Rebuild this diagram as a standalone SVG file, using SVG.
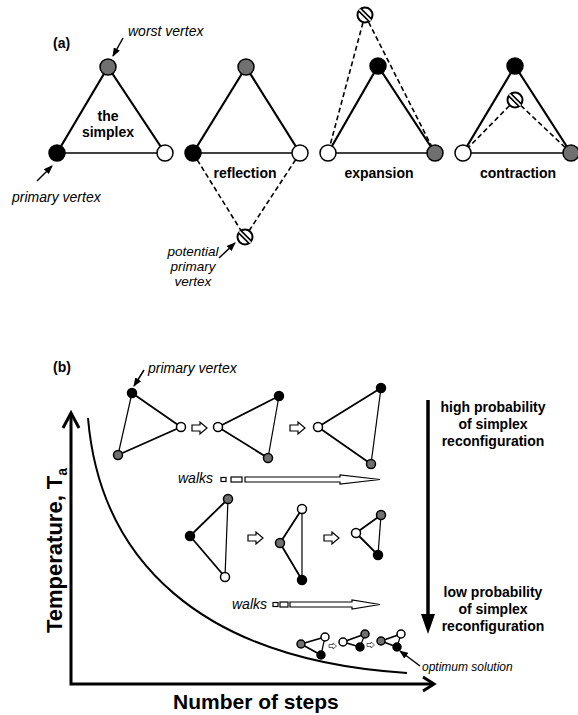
<svg xmlns="http://www.w3.org/2000/svg" xmlns:xlink="http://www.w3.org/1999/xlink" width="578" height="715" viewBox="0 0 578 715">
<style>
.v{stroke:#000;stroke-width:1.5}
.blk{fill:#000}.gry{fill:#707070}.wht{fill:#fff}
.e{stroke:#000;stroke-width:2.2;fill:none}
.et{stroke:#000;stroke-width:1.5;fill:none}
.es{stroke:#000;stroke-width:1.8;fill:none}
.est{stroke:#000;stroke-width:1.2;fill:none}
.d{stroke:#000;stroke-width:1.6;stroke-dasharray:5 3;fill:none}
.lb{font-family:"Liberation Sans",Arial,sans-serif;font-weight:bold;font-size:14px;text-anchor:middle;fill:#000}
.it{font-family:"Liberation Sans",Arial,sans-serif;font-style:italic;font-size:14px;fill:#000}
.ptr{stroke:#000;stroke-width:1.5;fill:none;marker-end:url(#ah)}
.ax{stroke:#000;stroke-width:3;fill:none}
.ho{fill:#fff;stroke:#000;stroke-width:1.2}
</style>
<defs>
<marker id="ah" markerUnits="userSpaceOnUse" markerWidth="9" markerHeight="7" refX="8" refY="3.5" orient="auto">
<path d="M0,0 L9,3.5 L0,7 Z" fill="#000"/>
</marker>
<g id="hatch">
<circle r="7.5" fill="#fff" stroke="#000" stroke-width="2"/>
<line x1="-5.3" y1="-5.3" x2="5.3" y2="5.3" stroke="#000" stroke-width="5"/>
<line x1="-5.6" y1="-5.6" x2="5.6" y2="5.6" stroke="#fff" stroke-width="1.6"/>
</g>
<path id="step" d="M0,-3 H8 V-6 L15,0 L8,6 V3 H0 Z"/>
</defs>

<!-- ===== Part (a) ===== -->
<text x="53" y="48" class="lb" style="text-anchor:start">(a)</text>

<g id="simplex">
<line x1="57" y1="153" x2="108" y2="67" class="e"/>
<line x1="108" y1="67" x2="165" y2="153" class="e"/>
<line x1="57" y1="153" x2="165" y2="153" class="et"/>
<circle cx="108" cy="67" r="8" class="v gry"/>
<circle cx="57" cy="153" r="8" class="v blk"/>
<circle cx="165" cy="153" r="8" class="v wht"/>
<text x="108" y="121" class="lb">the</text>
<text x="108" y="137" class="lb">simplex</text>
</g>
<text x="128" y="36" class="it">worst vertex</text>
<text x="12" y="202" class="it">primary vertex</text>

<g id="reflection">
<line x1="193" y1="153" x2="246" y2="67" class="e"/>
<line x1="246" y1="67" x2="300" y2="153" class="e"/>
<line x1="193" y1="153" x2="300" y2="153" class="et"/>
<line x1="193" y1="153" x2="245" y2="237" class="d"/>
<line x1="300" y1="153" x2="245" y2="237" class="d"/>
<circle cx="246" cy="67" r="8" class="v gry"/>
<circle cx="193" cy="153" r="8" class="v blk"/>
<circle cx="300" cy="153" r="8" class="v wht"/>
<use xlink:href="#hatch" x="245" y="237"/>
<text x="245" y="178" class="lb">reflection</text>
</g>
<text x="193" y="256" class="it" style="text-anchor:middle;font-size:13.5px">potential</text>
<text x="193" y="271" class="it" style="text-anchor:middle;font-size:13.5px">primary</text>
<text x="193" y="286" class="it" style="text-anchor:middle;font-size:13.5px">vertex</text>

<g id="expansion">
<line x1="328" y1="153" x2="378" y2="66" class="e"/>
<line x1="378" y1="66" x2="435" y2="153" class="e"/>
<line x1="328" y1="153" x2="435" y2="153" class="et"/>
<line x1="365" y1="15" x2="328" y2="153" class="d"/>
<line x1="365" y1="15" x2="435" y2="153" class="d"/>
<circle cx="378" cy="66" r="8" class="v blk"/>
<circle cx="328" cy="153" r="8" class="v wht"/>
<circle cx="435" cy="153" r="8" class="v gry"/>
<use xlink:href="#hatch" x="365" y="15"/>
<text x="379" y="178" class="lb">expansion</text>
</g>

<g id="contraction">
<line x1="463" y1="153" x2="515" y2="66" class="e"/>
<line x1="515" y1="66" x2="571" y2="153" class="e"/>
<line x1="463" y1="153" x2="571" y2="153" class="et"/>
<line x1="515" y1="100" x2="463" y2="153" class="d"/>
<line x1="515" y1="100" x2="571" y2="153" class="d"/>
<circle cx="515" cy="66" r="8" class="v blk"/>
<circle cx="463" cy="153" r="8" class="v wht"/>
<circle cx="571" cy="153" r="8" class="v gry"/>
<use xlink:href="#hatch" x="515" y="100"/>
<text x="518" y="178" class="lb">contraction</text>
</g>

<!-- ===== Part (b) ===== -->
<text x="53" y="372" class="lb" style="text-anchor:start">(b)</text>
<text x="148" y="373" class="it">primary vertex</text>

<g id="b1">
<line x1="132" y1="393" x2="181" y2="427" class="es"/>
<line x1="181" y1="427" x2="118" y2="455" class="es"/>
<line x1="118" y1="455" x2="132" y2="393" class="est"/>
<circle cx="132" cy="393" r="4.5" class="v blk"/>
<circle cx="181" cy="427" r="4.5" class="v wht"/>
<circle cx="118" cy="455" r="4.5" class="v gry"/>
</g>
<g id="b2">
<line x1="218" y1="427" x2="279" y2="396" class="es"/>
<line x1="218" y1="427" x2="268" y2="458" class="es"/>
<line x1="279" y1="396" x2="268" y2="458" class="est"/>
<circle cx="218" cy="427" r="4.5" class="v wht"/>
<circle cx="279" cy="396" r="4.5" class="v blk"/>
<circle cx="268" cy="458" r="4.5" class="v gry"/>
</g>
<g id="b3">
<line x1="318" y1="427" x2="381" y2="388" class="es"/>
<line x1="318" y1="427" x2="371" y2="464" class="es"/>
<line x1="381" y1="388" x2="371" y2="464" class="est"/>
<circle cx="318" cy="427" r="4.5" class="v wht"/>
<circle cx="381" cy="388" r="4.5" class="v blk"/>
<circle cx="371" cy="464" r="4.5" class="v gry"/>
</g>
<g id="b4">
<line x1="190" y1="536" x2="228" y2="499" class="es"/>
<line x1="190" y1="536" x2="225" y2="577" class="es"/>
<line x1="228" y1="499" x2="225" y2="577" class="est"/>
<circle cx="228" cy="499" r="4.5" class="v gry"/>
<circle cx="190" cy="536" r="4.5" class="v blk"/>
<circle cx="225" cy="577" r="4.5" class="v wht"/>
</g>
<g id="b5">
<line x1="280" y1="543" x2="302" y2="509" class="es"/>
<line x1="280" y1="543" x2="302" y2="580" class="es"/>
<line x1="302" y1="509" x2="302" y2="580" class="est"/>
<circle cx="302" cy="509" r="4.5" class="v wht"/>
<circle cx="280" cy="543" r="4.5" class="v gry"/>
<circle cx="302" cy="580" r="4.5" class="v blk"/>
</g>
<g id="b6">
<line x1="356" y1="533" x2="381" y2="515" class="es"/>
<line x1="356" y1="533" x2="378" y2="555" class="es"/>
<line x1="381" y1="515" x2="378" y2="555" class="est"/>
<circle cx="381" cy="515" r="4.5" class="v gry"/>
<circle cx="356" cy="533" r="4.5" class="v wht"/>
<circle cx="378" cy="555" r="4.5" class="v blk"/>
</g>
<g id="t1">
<line x1="301" y1="644" x2="325" y2="637" class="es"/>
<line x1="301" y1="644" x2="321" y2="655" class="es"/>
<line x1="325" y1="637" x2="321" y2="655" class="est"/>
<circle cx="301" cy="644" r="4" class="v gry"/>
<circle cx="325" cy="637" r="4" class="v wht"/>
<circle cx="321" cy="655" r="4" class="v blk"/>
</g>
<g id="t2">
<line x1="343" y1="642" x2="365" y2="634" class="es"/>
<line x1="343" y1="642" x2="360" y2="647" class="es"/>
<line x1="365" y1="634" x2="360" y2="647" class="est"/>
<circle cx="343" cy="642" r="4" class="v wht"/>
<circle cx="365" cy="634" r="4" class="v gry"/>
<circle cx="360" cy="647" r="4" class="v blk"/>
</g>
<g id="t3">
<line x1="381" y1="641" x2="401" y2="634" class="es"/>
<line x1="381" y1="641" x2="397" y2="647" class="es"/>
<line x1="401" y1="634" x2="397" y2="647" class="est"/>
<circle cx="381" cy="641" r="4" class="v gry"/>
<circle cx="401" cy="634" r="4" class="v wht"/>
<circle cx="397" cy="647" r="4" class="v blk"/>
</g>
<text x="422" y="671" class="it" style="font-size:12px">optimum solution</text>

<text x="178" y="483" class="it">walks</text>
<text x="232" y="609" class="it">walks</text>

<text x="493" y="412" class="lb">high probability</text>
<text x="493" y="429" class="lb">of simplex</text>
<text x="493" y="446" class="lb">reconfiguration</text>
<text x="493" y="597" class="lb">low probability</text>
<text x="493" y="614" class="lb">of simplex</text>
<text x="493" y="631" class="lb">reconfiguration</text>

<text transform="translate(62,633) rotate(-90)" style="font-family:'Liberation Sans',Arial,sans-serif;font-weight:bold;font-size:22px">Temperature, T<tspan dy="5" style="font-size:14px">a</tspan></text>
<text x="173" y="709" style="font-family:'Liberation Sans',Arial,sans-serif;font-weight:bold;font-size:21px">Number of steps</text>

<!-- ===== Connectors ===== -->
<g id="connectors">
<line x1="123" y1="38" x2="113" y2="56" class="ptr"/>
<line x1="37" y1="181" x2="52" y2="166" class="ptr"/>
<line x1="219" y1="258" x2="235" y2="243" class="ptr"/>
<line x1="144" y1="370" x2="134" y2="386" class="ptr"/>
<line x1="420" y1="666" x2="400" y2="651" class="ptr"/>

<use xlink:href="#step" x="192" y="428" class="ho"/>
<use xlink:href="#step" x="290" y="428" class="ho"/>
<use xlink:href="#step" x="248" y="538" class="ho"/>
<use xlink:href="#step" x="324" y="538" class="ho"/>
<use xlink:href="#step" transform="translate(329,646) scale(0.5)" class="ho"/>
<use xlink:href="#step" transform="translate(367,645) scale(0.5)" class="ho"/>

<rect x="221" y="477.5" width="5" height="4" class="ho"/>
<rect x="231" y="477" width="11" height="5" class="ho"/>
<polygon points="245,477 340,477 340,475 380,479.5 340,484 340,482 245,482" class="ho"/>
<rect x="273" y="602.5" width="5" height="4" class="ho"/>
<rect x="280" y="602" width="8" height="5" class="ho"/>
<polygon points="290,602 352,602 352,600 380,604.5 352,609 352,607 290,607" class="ho"/>

<line x1="428" y1="400" x2="428" y2="616" style="stroke:#000;stroke-width:3.5"/>
<polygon points="421,614 435,614 428,634" fill="#000"/>

<path d="M71,414 V684 H433" class="ax"/>
<path d="M63,428 L71,413 L79,428" class="ax"/>
<path d="M423,677 L434,684 L423,691" class="ax"/>
<path d="M88,418 C100,560 200,660 407,673" style="stroke:#000;stroke-width:2;fill:none"/>
</g>
</svg>
